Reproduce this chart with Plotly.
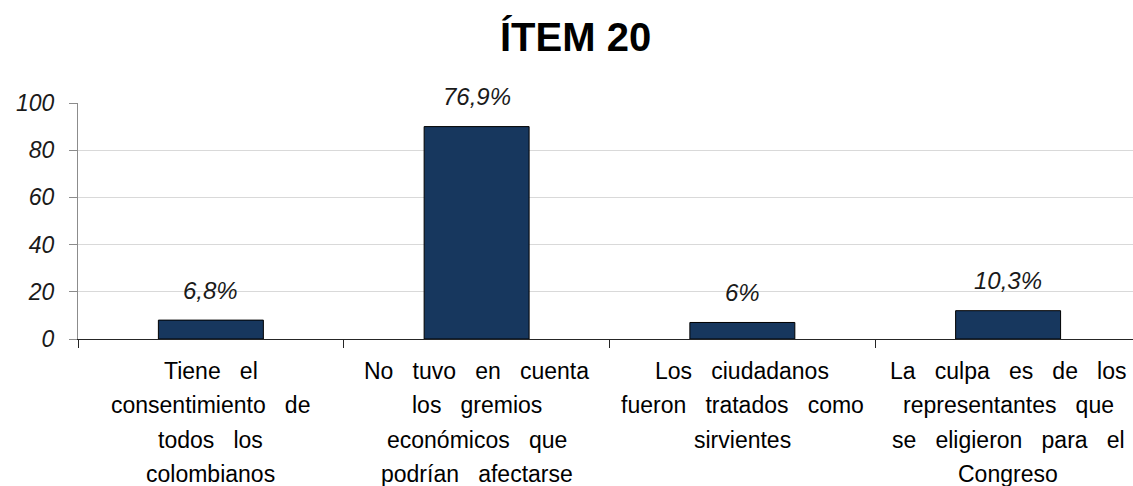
import plotly.graph_objects as go

categories = ["C1", "C2", "C3", "C4"]
values = [8, 90, 7, 12]
value_labels = ["6,8%", "76,9%", "6%", "10,3%"]
category_lines = [
    ["Tiene   el", "consentimiento   de", "todos   los", "colombianos"],
    ["No   tuvo   en   cuenta", "los   gremios", "económicos   que", "podrían   afectarse"],
    ["Los   ciudadanos", "fueron   tratados   como", "sirvientes"],
    ["La   culpa   es   de   los", "representantes   que", "se   eligieron   para   el", "Congreso"],
]
y_ticks = [0, 20, 40, 60, 80, 100]
title_text = "ÍTEM 20"

FONT = "Liberation Sans, Arial, sans-serif"

# plot area in pixels
L, R, T, B = 78, 0, 103, 147
W, H = 1133, 486
PW, PH = W - L - R, H - T - B

fig = go.Figure()
fig.add_trace(go.Bar(
    x=categories,
    y=values,
    marker=dict(color="#17375e", line=dict(color="#000000", width=1)),
    hoverinfo="skip",
))

annotations = []
for c, v, lab in zip(categories, values, value_labels):
    annotations.append(dict(
        x=c, y=v, xref="x", yref="y", text=lab, showarrow=False,
        yanchor="middle", yshift=30,
        font=dict(family=FONT, size=24, color="#1a1a1a", style="italic"),
    ))
for c, lines in zip(categories, category_lines):
    for i, line in enumerate(lines):
        annotations.append(dict(
            x=c, y=0, xref="x", yref="y", text=line, showarrow=False,
            yanchor="middle", yshift=-(32 + i * 34.3),
            font=dict(family=FONT, size=23, color="#000000"),
        ))
annotations.append(dict(
    x=(575 - L) / PW, y=(H - B - 37) / PH, xref="paper", yref="paper",
    xanchor="center", yanchor="middle", showarrow=False, text="<b>" + title_text + "</b>",
    font=dict(family=FONT, size=40, color="#000000"),
))

fig.update_layout(
    width=W, height=H,
    margin=dict(l=L, r=R, t=T, b=B, autoexpand=False),
    paper_bgcolor="white", plot_bgcolor="white",
    bargap=0.605,
    showlegend=False,
    annotations=annotations,
    xaxis=dict(
        type="category", range=[-0.5, 3.47], automargin=False,
        showticklabels=False, showgrid=False,
        showline=True, linecolor="#262626", linewidth=1,
        ticks="outside", tickson="boundaries", ticklen=8, tickcolor="#262626",
    ),
    yaxis=dict(
        range=[0, 100], tickvals=y_ticks, ticktext=[str(t) for t in y_ticks],
        automargin=False,
        showgrid=True, gridcolor="#d9d9d9", gridwidth=1,
        zeroline=False,
        showline=True, linecolor="#8c8c8c", linewidth=1,
        ticks="outside", ticklen=8, tickcolor="#8c8c8c",
        ticklabelstandoff=10,
        tickfont=dict(family=FONT, size=23, color="#1a1a1a", style="italic"),
    ),
)

fig.write_html(
    "out.html",
    config={"displayModeBar": False},
    post_script="document.body.style.margin='0';document.body.style.padding='0';",
)
